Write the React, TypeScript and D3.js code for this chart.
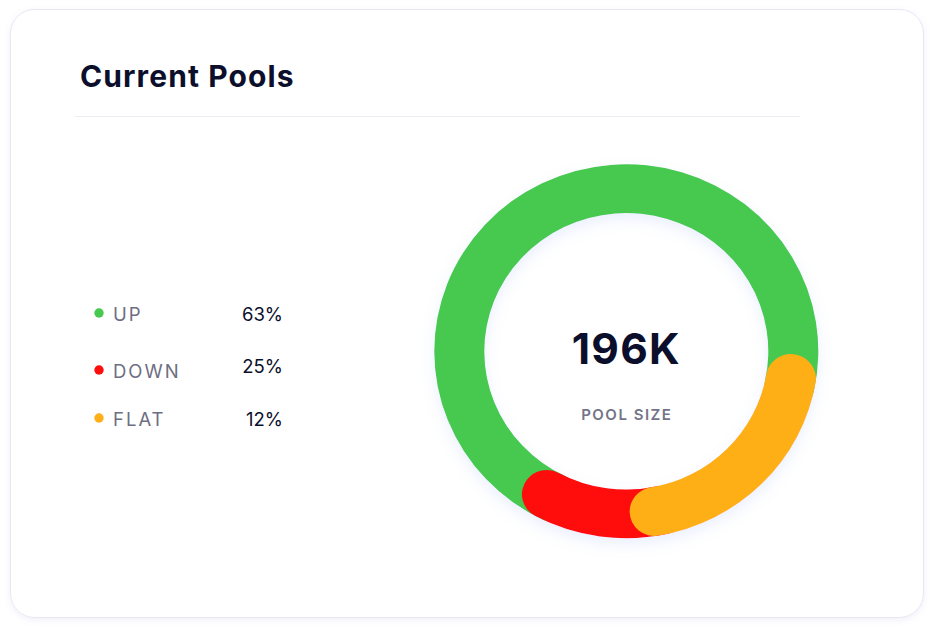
import React, { useEffect, useRef } from 'react';
import * as d3 from 'd3';

// legend rows
const categories = ['UP', 'DOWN', 'FLAT'];
const percents = [63, 25, 12];
const legendColors = ['#47C84F', '#FF0D0D', '#FFAF19'];

const ringValues = [65, 24.4, 10.6];
const ringColors = ['#47C84F', '#FFAF19', '#FF0D0D'];

const poolSize = '196K';
const poolLabel = 'POOL SIZE';
const title = 'Current Pools';

const W = 935;
const H = 631;

const App = () => {
  const svgRef = useRef<SVGSVGElement>(null);

  useEffect(() => {
    const svg = d3.select(svgRef.current);
    svg.selectAll('*').remove();

    const defs = svg.append('defs');
    const cardShadow = defs.append('filter').attr('id', 'cardShadow')
      .attr('x', '-10%').attr('y', '-10%').attr('width', '120%').attr('height', '120%');
    cardShadow.append('feDropShadow')
      .attr('dx', 0).attr('dy', 2).attr('stdDeviation', 3)
      .attr('flood-color', '#8080d0').attr('flood-opacity', 0.12);

    const ringShadow = defs.append('filter').attr('id', 'ringShadow')
      .attr('x', '-20%').attr('y', '-20%').attr('width', '140%').attr('height', '140%');
    ringShadow.append('feDropShadow')
      .attr('dx', 0).attr('dy', 6).attr('stdDeviation', 7)
      .attr('flood-color', '#7f9cf0').attr('flood-opacity', 0.16);

    // card
    svg.append('rect')
      .attr('x', 10.5).attr('y', 9.5)
      .attr('width', 913).attr('height', 608)
      .attr('rx', 24)
      .attr('fill', '#fff')
      .attr('stroke', '#E7E7F4')
      .attr('filter', 'url(#cardShadow)');

    svg.append('text')
      .attr('x', 80).attr('y', 87)
      .attr('font-family', 'Inter, sans-serif')
      .attr('font-weight', 700)
      .attr('font-size', 30)
      .attr('letter-spacing', 1.1)
      .attr('fill', '#0C0F2C')
      .text(title);

    svg.append('line')
      .attr('x1', 75).attr('x2', 800)
      .attr('y1', 116.5).attr('y2', 116.5)
      .attr('stroke', '#EDEDF4');

    // legend
    const legendY = d3.scaleOrdinal<string, number>().domain(categories).range([313, 370, 418]);
    const valueY = d3.scaleOrdinal<string, number>().domain(categories).range([320.5, 373, 426]);
    const leg = svg.append('g');
    categories.forEach((c, i) => {
      leg.append('circle')
        .attr('cx', 99).attr('cy', legendY(c)).attr('r', 4.7)
        .attr('fill', legendColors[i]);
      leg.append('text')
        .attr('x', 113).attr('y', legendY(c) + 7.5)
        .attr('font-family', 'Inter, sans-serif')
        .attr('font-size', 18.5)
        .attr('letter-spacing', 2)
        .attr('fill', '#6D6E82')
        .text(c);
      leg.append('text')
        .attr('x', 283).attr('y', valueY(c))
        .attr('text-anchor', 'end')
        .attr('font-family', 'Inter, sans-serif')
        .attr('font-size', 18.5)
        .attr('fill', '#0C0F2C')
        .text(`${percents[i]}%`);
    });

    // ring
    const cx = 626.3;
    const cy = 351.3;
    const outer = 192;
    const inner = 142;
    const cap = (outer - inner) / 2;
    const toRad = Math.PI / 180;
    const start = 217 * toRad;
    const pie = d3.pie<number>().sort(null)
      .startAngle(start).endAngle(start + 2 * Math.PI);
    const arcs = pie(ringValues);
    const arc = d3.arc<{ startAngle: number; endAngle: number }>()
      .innerRadius(inner).outerRadius(outer).cornerRadius(cap);

    const ext = 20 * toRad;
    // green sits under both neighbours, red under orange, orange on top
    const pieces = [
      { s: arcs[0].startAngle - ext, e: arcs[0].endAngle + ext, color: ringColors[0] },
      { s: arcs[2].startAngle - ext, e: arcs[2].endAngle, color: ringColors[2] },
      { s: arcs[1].startAngle, e: arcs[1].endAngle, color: ringColors[1] },
    ];

    const ring = svg.append('g')
      .attr('filter', 'url(#ringShadow)')
      .append('g')
      .attr('transform', `translate(${cx},${cy}) scale(1,0.974)`);
    pieces.forEach(p => {
      ring.append('path')
        .attr('d', arc({ startAngle: p.s, endAngle: p.e }) as string)
        .attr('fill', p.color);
    });

    svg.append('text')
      .attr('x', cx).attr('y', 363.5)
      .attr('text-anchor', 'middle')
      .attr('font-family', 'Inter, sans-serif')
      .attr('font-weight', 700)
      .attr('font-size', 42.5)
      .attr('letter-spacing', 1.2)
      .attr('fill', '#0C0F2C')
      .text(poolSize);

    svg.append('text')
      .attr('x', cx + 0.5).attr('y', 420)
      .attr('text-anchor', 'middle')
      .attr('font-family', 'Inter, sans-serif')
      .attr('font-weight', 600)
      .attr('font-size', 15)
      .attr('letter-spacing', 1.5)
      .attr('fill', '#737487')
      .text(poolLabel);
  }, []);

  return (
    <svg
      ref={svgRef}
      width={W}
      height={H}
      style={{ position: 'absolute', top: 0, left: 0, background: '#fff' }}
    />
  );
};

export default App;
